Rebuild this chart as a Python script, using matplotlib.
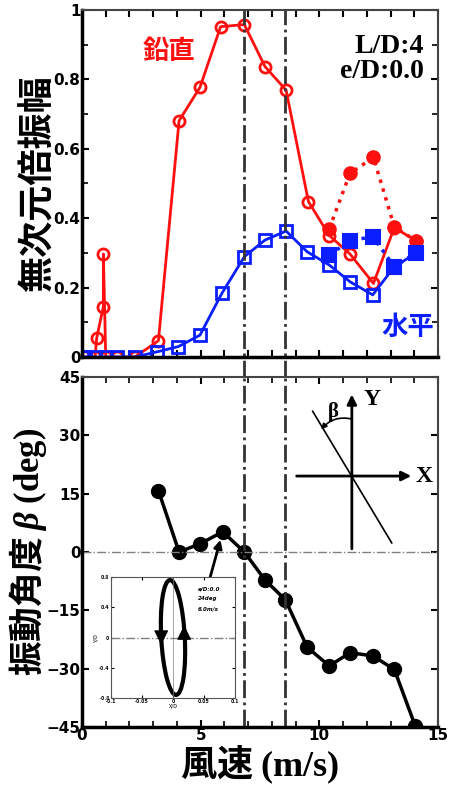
import numpy as np
import matplotlib.pyplot as plt
from matplotlib.patches import Ellipse

plt.rcParams['font.family'] = ['Noto Sans CJK JP', 'DejaVu Sans']
plt.rcParams['font.weight'] = 'bold'
plt.rcParams['mathtext.fontset'] = 'custom'
plt.rcParams['mathtext.rm'] = 'Liberation Serif'
plt.rcParams['mathtext.bf'] = 'Liberation Serif:bold'
plt.rcParams['mathtext.it'] = 'Liberation Serif:italic:bold'

# vertical amplitude (open circles, solid line)
red_x = [0.13, 0.55, 0.62, 0.9, 0.9, 1.0, 1.46, 2.23, 3.22, 4.09, 4.97, 5.84, 6.84,
         7.71, 8.6, 9.54, 10.42, 11.29, 12.28, 13.16, 14.07]
red_y = [0.0, 0.0, 0.055, 0.145, 0.297, 0.0, 0.0, 0.0, 0.047, 0.681, 0.777, 0.952, 0.958,
         0.837, 0.769, 0.448, 0.35, 0.297, 0.212, 0.373, 0.335]
# vertical amplitude (filled circles, dotted line)
red2_x = [10.42, 11.29, 12.28, 13.16, 14.07]
red2_y = [0.37, 0.529, 0.575, 0.375, 0.335]
# horizontal amplitude (open squares)
blue_x = [0.0, 0.13, 0.55, 1.0, 1.46, 2.23, 3.17, 4.06, 4.97, 5.89, 6.84, 7.71, 8.6,
          9.49, 10.42, 11.29, 12.25, 13.16, 14.07]
blue_y = [0.0, 0.0, 0.0, 0.0, 0.0, 0.0, 0.015, 0.03, 0.063, 0.183, 0.289, 0.337, 0.363,
          0.303, 0.265, 0.217, 0.179, 0.26, 0.299]
# horizontal amplitude (filled squares)
blue2_x = [10.42, 11.29, 12.25, 13.16, 14.07]
blue2_y = [0.294, 0.335, 0.347, 0.26, 0.30]
# vibration angle beta
beta_x = [3.22, 4.09, 4.97, 5.93, 6.84, 7.71, 8.57, 9.49, 10.42, 11.29, 12.25, 13.16, 14.04]
beta_y = [15.8, 0.0, 2.1, 5.2, 0.0, -7.2, -12.3, -24.5, -29.3, -25.9, -26.7, -30.2, -44.7]
# marked wind speeds
vlines = [6.83, 8.57]

fig = plt.figure(figsize=(4.53, 7.87), dpi=100)
ax1 = fig.add_axes([82/453, 1-357/787, 356/453, 347/787])
ax2 = fig.add_axes([82/453, 1-727/787, 356/453, 350/787])

ax1.plot(red_x, red_y, '-o', color='#ff1010', lw=2, ms=8, mfc='none', mew=2)
ax1.plot(red2_x, red2_y, ':o', color='#ff1010', lw=2.5, ms=9, mew=1.5)
ax1.plot(blue_x, blue_y, '-s', color='#0a1eff', lw=2, ms=8, mfc='none', mew=2)
ax1.plot(blue2_x, blue2_y, ':s', color='#0a1eff', lw=2.5, ms=10, mew=1.5)
ax1.set_xlim(0, 15)
ax1.set_ylim(0, 1)
ax1.set_xticks(np.arange(0, 16, 1))
ax1.set_xticklabels([])
ax1.set_yticks([0, 0.2, 0.4, 0.6, 0.8, 1])
ax1.set_yticklabels(['0', '0.2', '0.4', '0.6', '0.8', '1'])
ax1.set_yticks(np.arange(0.1, 1, 0.2), minor=True)
ax1.set_ylabel('無次元倍振幅', fontsize=26, fontweight='bold', labelpad=-2)
ax1.text(0.17, 0.88, '鉛直', transform=ax1.transAxes, color='#ff1010', fontsize=19,
         fontweight='bold', va='center')
ax1.text(0.96, 0.93, 'L/D:4\ne/D:0.0', transform=ax1.transAxes, fontsize=20,
         family='Liberation Serif', fontweight='bold', ha='right', va='top', linespacing=1.0)
ax1.text(0.84, 0.085, '水平', transform=ax1.transAxes, color='#0a1eff', fontsize=19,
         fontweight='bold', va='center')

ax2.plot(beta_x, beta_y, '-o', color='black', lw=2.5, ms=10)
ax2.axhline(0, color='gray', lw=1, ls='-.')
ax2.set_xlim(0, 15)
ax2.set_ylim(-45, 45)
ax2.set_xticks([0, 5, 10, 15])
ax2.set_xticks(np.arange(0, 16, 1), minor=True)
ax2.set_yticks([-45, -30, -15, 0, 15, 30, 45])
ax2.set_yticklabels(['\u221245', '\u221230', '\u221215', '0', '15', '30', '45'])
ax2.set_ylabel('振動角度 $\\mathit{\\beta}$ $\\mathbf{(deg)}$', fontsize=25,
               fontweight='bold', labelpad=-2)
ax2.set_xlabel('風速 $\\mathbf{(m/s)}$', fontsize=26, fontweight='bold', labelpad=0)

for ax in (ax1, ax2):
    ax.tick_params(which='both', direction='in', top=True, right=True, labelsize=11,
                   pad=1)
    ax.tick_params(which='major', length=5, width=1.5)
    ax.tick_params(which='minor', length=4, width=1.2)
    for s in ('left', 'bottom'):
        ax.spines[s].set_linewidth(2.5)
    for s in ('top', 'right'):
        ax.spines[s].set_linewidth(1.5)
        ax.spines[s].set_color('#444444')
    for lab in ax.get_yticklabels() + ax.get_xticklabels():
        lab.set_fontweight('bold')
        lab.set_family('DejaVu Sans')

for v in vlines:
    ax1.axvline(v, ymin=-0.06, ymax=1, color='#333333', lw=2, ls='-.', clip_on=False)
    ax2.axvline(v, color='#333333', lw=2, ls='-.')

# axis schematic
t = ax2.transAxes
ax2.annotate('', xy=(0.758, 0.95), xytext=(0.758, 0.509), xycoords=t,
             arrowprops=dict(arrowstyle='-|>', color='black', lw=2, mutation_scale=14,
                             shrinkA=0, shrinkB=0))
ax2.annotate('', xy=(0.925, 0.717), xytext=(0.603, 0.717), xycoords=t,
             arrowprops=dict(arrowstyle='-|>', color='black', lw=2, mutation_scale=14,
                             shrinkA=0, shrinkB=0))
ax2.plot([0.648, 0.87], [0.902, 0.526], transform=t, color='black', lw=1.2)
ax2.annotate('', xy=(0.672, 0.85), xytext=(0.758, 0.88), xycoords=t,
             arrowprops=dict(arrowstyle='-|>', color='black', lw=1.2, mutation_scale=8,
                             shrinkA=0, shrinkB=0, connectionstyle='arc3,rad=0.3'))
ax2.text(0.705, 0.9, '\u03b2', transform=t, fontsize=15, family='Liberation Serif',
         fontweight='bold', ha='center', va='center')
ax2.text(0.815, 0.935, 'Y', transform=t, fontsize=17, family='Liberation Serif',
         fontweight='bold', ha='center', va='center')
ax2.text(0.962, 0.715, 'X', transform=t, fontsize=17, family='Liberation Serif',
         fontweight='bold', ha='center', va='center')

# inset orbit
ax3 = fig.add_axes([111/453, 1-698/787, 124/453, 121/787])
ax3.set_xlim(-0.1, 0.1)
ax3.set_ylim(-0.8, 0.8)
ax3.set_xticks([-0.1, -0.05, 0, 0.05, 0.1])
ax3.set_xticklabels(['-0.1', '-0.05', '0', '0.05', '0.1'])
ax3.set_yticks([-0.8, -0.4, 0, 0.4, 0.8])
ax3.set_yticklabels(['-0.8', '-0.4', '0', '0.4', '0.8'])
ax3.tick_params(direction='in', top=True, right=True, labelsize=4, pad=1, length=2)
ax3.set_xlabel('X/D', fontsize=4, labelpad=0)
ax3.set_ylabel('Y/D', fontsize=4, labelpad=0)
for s in ax3.spines.values():
    s.set_linewidth(0.8)
    s.set_color('#555555')
ax3.axhline(0, color='gray', lw=1, ls='-.')
ax3.axvline(0, color='gray', lw=0.5)
ax3.add_patch(Ellipse((0.5, 0.5), 0.19, 0.95, angle=3, transform=ax3.transAxes,
                      fill=False, lw=3, color='black'))
ax3.annotate('', xy=(0.405, 0.44), xytext=(0.405, 0.62), xycoords=ax3.transAxes,
             arrowprops=dict(arrowstyle='-|>', color='black', lw=1, mutation_scale=22,
                             shrinkA=0, shrinkB=0))
ax3.annotate('', xy=(0.59, 0.6), xytext=(0.59, 0.42), xycoords=ax3.transAxes,
             arrowprops=dict(arrowstyle='-|>', color='black', lw=1, mutation_scale=22,
                             shrinkA=0, shrinkB=0))
ax3.text(0.7, 0.92, 'e/D:0.0\n24deg\n6.0m/s', transform=ax3.transAxes, fontsize=4,
         style='italic', va='top', linespacing=2.2, family='DejaVu Sans')

# arrow from inset to the point
ax2.annotate('', xy=(beta_x[3], beta_y[3]), xytext=(0.8, 1.0),
             textcoords=ax3.transAxes,
             arrowprops=dict(arrowstyle='-|>', color='black', lw=2, mutation_scale=12,
                             shrinkA=0, shrinkB=6))

fig.savefig('out.png', dpi=100)
